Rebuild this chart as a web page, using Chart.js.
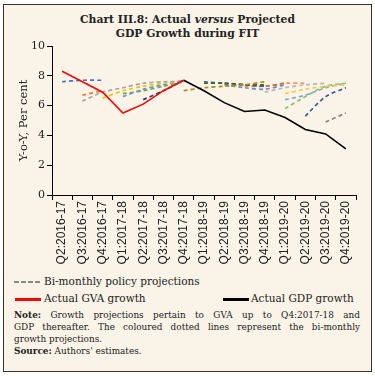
<!DOCTYPE html>
<html>
<head>
<meta charset="utf-8">
<script src="https://cdn.jsdelivr.net/npm/chart.js@4.4.1/dist/chart.umd.min.js"></script>
<style>
  html, body { margin: 0; padding: 0; background: #ffffff; }
  #frame { position: absolute; left: 3px; top: 4px; width: 367px; height: 366px; border: 1px solid #333; background: #FAF4E8; }
  #title { position: absolute; left: 0; top: 13px; width: 375px; text-align: center; font-family: "DejaVu Serif", serif; font-weight: bold; font-size: 10.8px; line-height: 14px; color: #222; }
  #wrap { position: absolute; left: 0; top: 0; width: 375px; height: 275px; }
  .leg { position: absolute; font-family: "DejaVu Serif", serif; font-size: 10.5px; color: #222; white-space: nowrap; }
  .sw { position: absolute; }
  #note { position: absolute; left: 14px; top: 309px; width: 346px; font-family: "DejaVu Serif", serif; font-size: 8.9px; line-height: 12px; color: #222; }
  #note .j { text-align: justify; text-align-last: justify; white-space: nowrap; }
  #note .j2 { text-align: justify; text-align-last: justify; }
</style>
</head>
<body>
<div id="frame"></div>
<div id="title">Chart III.8: Actual <i>versus</i> Projected<br>GDP Growth during FIT</div>
<div id="wrap"><canvas id="c" width="375" height="275"></canvas></div>

<div class="sw" style="left:14px;top:281px;width:27px;height:2px;background:repeating-linear-gradient(to right,#888 0,#888 5px,transparent 5px,transparent 7px);"></div>
<div class="leg" style="left:44px;top:275px;">Bi-monthly policy projections</div>
<div class="sw" style="left:15px;top:298px;width:26px;height:2.5px;background:#ff0000;"></div>
<div class="leg" style="left:44px;top:292px;">Actual GVA growth</div>
<div class="sw" style="left:223px;top:298px;width:26px;height:2.5px;background:#000;"></div>
<div class="leg" style="left:251px;top:292px;">Actual GDP growth</div>

<div id="note">
  <div class="j2"><b>Note:</b> Growth projections pertain to GVA up to Q4:2017-18 and</div>
  <div class="j2">GDP thereafter. The coloured dotted lines represent the bi-monthly</div>
  <div>growth projections.</div>
  <div><b>Source:</b> Authors' estimates.</div>
</div>

<script>
// ---- Data ----
const categories = ['Q2:2016-17','Q3:2016-17','Q4:2016-17','Q1:2017-18','Q2:2017-18','Q3:2017-18','Q4:2017-18',
  'Q1:2018-19','Q2:2018-19','Q3:2018-19','Q4:2018-19','Q1:2019-20','Q2:2019-20','Q3:2019-20','Q4:2019-20'];
const yTicks = [0, 2, 4, 6, 8, 10];
const actualGVA = [8.3, 7.6, 6.9, 5.5, 6.1, 7.0, 7.7, null, null, null, null, null, null, null, null];
const actualGDP = [null, null, null, null, null, null, 7.7, 7.0, 6.2, 5.6, 5.7, 5.2, 4.4, 4.1, 3.1];

// Bi-monthly projections: [start category index, values...]
const projOct16 = [0, 7.6, 7.7, 7.7];
const projDec16 = [1, 6.7, 7.0];
const projFeb17 = [1, 6.3, 6.9, 7.2, 7.5, 7.6, 7.6];
const projApr17 = [2, 6.5, 7.0, 7.3, 7.5, 7.6];
const projJun17 = [3, 6.6, 7.1, 7.4, 7.7];
const projAug17 = [3, 6.8, 7.0, 7.3, 7.6];
const projOct17 = [4, 6.4, 7.0, 7.7];
const projFeb18 = [6, 7.0, 7.2, 7.3, 7.4, 7.6];
const projApr18 = [7, 7.6, 7.5, 7.4, 7.4];
const projJun18 = [7, 7.5, 7.5, 7.4, 7.3];
const projAug18 = [8, 7.5, 7.4, 7.3, 7.5];
const projOct18 = [8, 7.4, 7.2, 7.1, 7.4];
const projDec18 = [9, 7.3, 7.3, 7.5, 7.5];
const projFeb19 = [10, 6.9, 7.2, 7.4, 7.5];
const projApr19 = [11, 6.8, 7.1, 7.3, 7.4];
const projJun19 = [11, 6.4, 6.7, 7.2, 7.5];
const projAug19 = [11, 5.8, 6.6, 7.3, 7.5];
const projOct19 = [12, 5.3, 6.6, 7.2];
const projDec19 = [13, 4.9, 5.5];

const projections = [
  [projOct16, '#4472C4'], [projDec16, '#ED7D31'], [projFeb17, '#A5A5A5'], [projApr17, '#FFC000'],
  [projJun17, '#5B9BD5'], [projAug17, '#70AD47'], [projOct17, '#264478'], [projFeb18, '#B08A1A'],
  [projApr18, '#43682B'], [projJun18, '#255E91'], [projAug18, '#C0703A'], [projOct18, '#698ED0'],
  [projDec18, '#F1975A'], [projFeb19, '#B7B7B7'], [projApr19, '#FFCD33'], [projJun19, '#7CAFDD'],
  [projAug19, '#8CC168'], [projOct19, '#335AA1'], [projDec19, '#848484']
];

function expand(p) {
  const arr = categories.map(() => null);
  for (let i = 1; i < p.length; i++) arr[p[0] + i - 1] = p[i];
  return arr;
}

const datasets = [
  { label: 'Actual GVA growth', data: actualGVA, borderColor: '#ff0000', borderWidth: 1.6, pointRadius: 0, tension: 0, spanGaps: false },
  { label: 'Actual GDP growth', data: actualGDP, borderColor: '#000000', borderWidth: 1.6, pointRadius: 0, tension: 0, spanGaps: false }
];
projections.forEach(([p, col]) => {
  datasets.push({ label: 'Bi-monthly policy projections', data: expand(p), borderColor: col, borderWidth: 1.7,
    borderDash: [4, 3], pointRadius: 0, tension: 0.3, spanGaps: false });
});

new Chart(document.getElementById('c'), {
  type: 'line',
  data: { labels: categories, datasets },
  options: {
    responsive: false,
    animation: false,
    layout: { padding: { left: 0, right: 19, top: 46, bottom: 0 } },
    plugins: { legend: { display: false }, tooltip: { enabled: false }, title: { display: false } },
    scales: {
      x: {
        offset: true,
        grid: { offset: true, drawOnChartArea: false, drawTicks: true, tickLength: 5, color: '#000', lineWidth: 1 },
        border: { display: true, color: '#000', width: 1 },
        ticks: { maxRotation: 90, minRotation: 90, autoSkip: false, padding: 1, color: '#222',
          font: { family: '"Liberation Sans", Arial, sans-serif', size: 12 } },
        afterFit: (s) => { s.height = 80; }
      },
      y: {
        min: 0, max: 10,
        afterBuildTicks: (s) => { s.ticks = yTicks.map(v => ({ value: v })); },
        grid: { drawOnChartArea: false, drawTicks: true, tickLength: 5, color: '#000' },
        border: { display: true, color: '#000', width: 1 },
        ticks: { padding: 2, color: '#222', font: { family: '"DejaVu Serif", serif', size: 11 } },
        title: { display: true, text: 'Y-o-Y, Per cent', color: '#222', padding: { top: 17, bottom: 0 },
          font: { family: '"DejaVu Serif", serif', size: 11.5 } },
        afterFit: (s) => { s.width = 52; }
      }
    }
  }
});
</script>
</body>
</html>
